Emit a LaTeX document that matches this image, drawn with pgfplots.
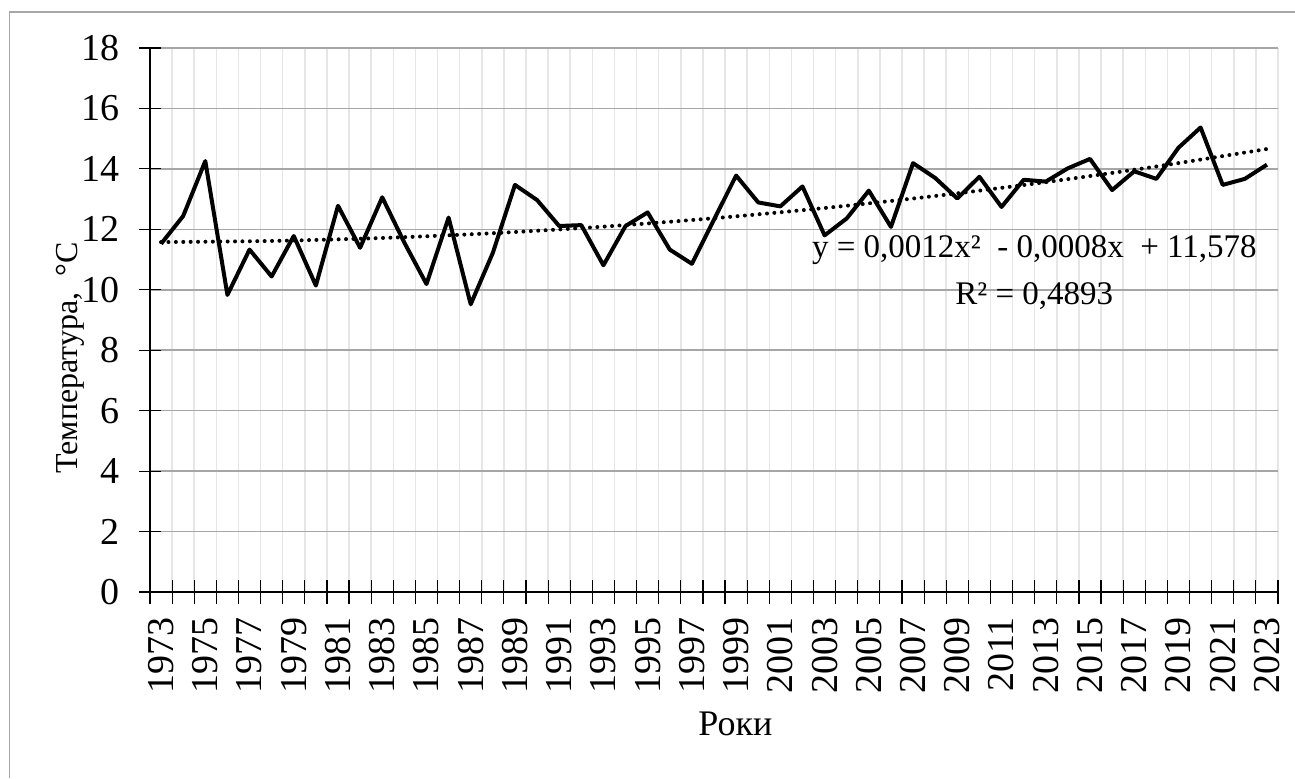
\documentclass[border=0pt]{standalone}
\usepackage{fontspec}
\setmainfont{Liberation Serif}
\usepackage{pgfplots}
\pgfplotsset{compat=1.18}

\definecolor{gridmaj}{HTML}{A6A6A6}
\definecolor{gridmin}{HTML}{E6E6E6}

\begin{document}
\begin{tikzpicture}
\path[use as bounding box] (-75pt,-93pt) rectangle (572.5pt,296pt);
\begin{axis}[
  scale only axis,
  width=564pt, height=272pt,
  xmin=1972.5, xmax=2023.5,
  ymin=0, ymax=18,
  ytick={0,2,...,18},
  xtick={1973,1975,...,2023},
  minor xtick={1972.5,1973.5,...,2023.5},
  major x tick style={draw=none},
  minor x tick style={black, line width=0.6pt},
  minor tick length=12pt,
  y tick style={black, line width=0.6pt},
  major tick length=11pt,
  tick align=center,
  axis x line*=bottom, axis y line*=left,
  axis line style={-, black, line width=0.75pt},
  ymajorgrids, xminorgrids,
  major grid style={gridmaj, line width=0.75pt},
  minor grid style={gridmin, line width=0.75pt},
  /pgf/number format/assume math mode=true,
  /pgf/number format/1000 sep={},
  tick label style={font=\fontsize{19}{22}\selectfont},
  xticklabel style={rotate=90, anchor=east, xshift=-3.5pt},
  yticklabel style={xshift=-6pt},
  xlabel={Роки},
  ylabel={Температура,\ \ °C},
  xlabel style={font=\fontsize{18}{21}\selectfont, at={(rel axis cs:0.519,0)}, anchor=base, yshift=-71.5pt},
  ylabel style={font=\fontsize{16}{19}\selectfont, at={(rel axis cs:0,0.43)}, anchor=base, yshift=36pt},
]
\addplot[black, line width=2pt, line join=round] coordinates {
(1973,11.52) (1974,12.44) (1975,14.26) (1976,9.83) (1977,11.33)
(1978,10.44) (1979,11.78) (1980,10.14) (1981,12.78) (1982,11.39)
(1983,13.06) (1984,11.56) (1985,10.19) (1986,12.39) (1987,9.52)
(1988,11.22) (1989,13.47) (1990,12.97) (1991,12.11) (1992,12.14)
(1993,10.81) (1994,12.11) (1995,12.56) (1996,11.33) (1997,10.86)
(1998,12.32) (1999,13.78) (2000,12.89) (2001,12.76) (2002,13.42)
(2003,11.80) (2004,12.36) (2005,13.28) (2006,12.08) (2007,14.19)
(2008,13.70) (2009,13.02) (2010,13.74) (2011,12.74) (2012,13.64)
(2013,13.58) (2014,14.02) (2015,14.33) (2016,13.30) (2017,13.92)
(2018,13.67) (2019,14.70) (2020,15.37) (2021,13.47) (2022,13.67)
(2023,14.14)
};
% trend line (values of the polynomial at every 5th year)
\addplot[black, line width=2pt, line cap=round, dash pattern=on 0pt off 3.7pt, smooth] coordinates {
(1973,11.578) (1978,11.616) (1983,11.714) (1988,11.872) (1993,12.090)
(1998,12.368) (2003,12.706) (2008,13.104) (2013,13.562) (2018,14.080)
(2023,14.658)
};
\node[font=\fontsize{16.5}{19}\selectfont, anchor=base] at (rel axis cs:0.784,0.614) {y = 0,0012x²\ \ - 0,0008x\ \ + 11,578};
\node[font=\fontsize{16.5}{19}\selectfont, anchor=base] at (rel axis cs:0.784,0.528) {R² = 0,4893};
\end{axis}
\draw[gridmaj, line width=0.75pt] (-70.25pt,-93pt) -- (-70.25pt,290pt) -- (572.5pt,290pt);
\end{tikzpicture}
\end{document}
